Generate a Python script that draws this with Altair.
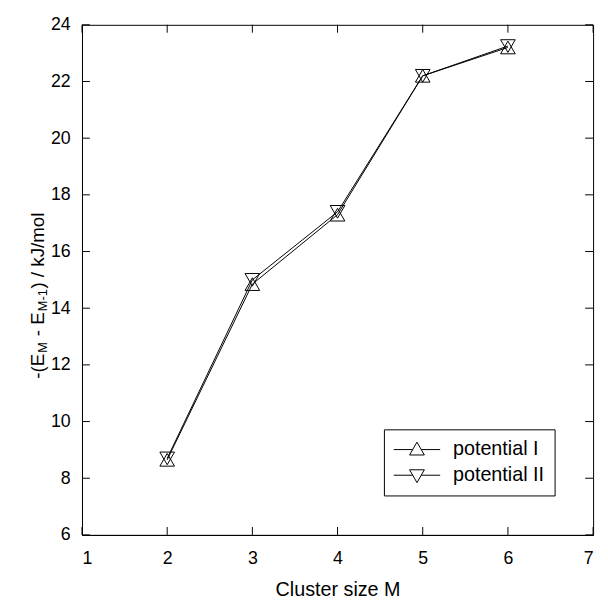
import altair as alt
import pandas as pd

# ---- data ----
cluster_size = [2, 3, 4, 5, 6]
potential_I = [8.65, 14.85, 17.3, 22.2, 23.2]
potential_II = [8.7, 15.0, 17.4, 22.2, 23.25]
series_names = ["potential I", "potential II"]
x_ticks = [1, 2, 3, 4, 5, 6, 7]
y_ticks = [6, 8, 10, 12, 14, 16, 18, 20, 22, 24]

W, H = 518, 517
FONT = "Liberation Sans"
FS = 18

df = pd.DataFrame({
    "M": cluster_size + cluster_size,
    "E": potential_I + potential_II,
    "series": [series_names[0]] * len(cluster_size) + [series_names[1]] * len(cluster_size),
})
xt_df = pd.DataFrame({"v": x_ticks})
yt_df = pd.DataFrame({"v": y_ticks})

xs = alt.Scale(domain=[1, 7], nice=False, zero=False)
ys = alt.Scale(domain=[6, 24], nice=False, zero=False)
XT = "Cluster size M"

lines = alt.Chart(df).mark_line(color="black", strokeWidth=1).encode(
    x=alt.X("M:Q", scale=xs, title=XT,
            axis=alt.Axis(values=x_ticks, ticks=False, labelPadding=15, grid=False,
                          titlePadding=12, titleFontSize=20, format="d")),
    y=alt.Y("E:Q", scale=ys, title=None,
            axis=alt.Axis(values=y_ticks, ticks=False, labelPadding=12, grid=False, format="d")),
    detail="series:N",
)

points = alt.Chart(df).mark_point(filled=False, color="black", size=220, strokeWidth=1, opacity=1).encode(
    x=alt.X("M:Q", scale=xs, title=XT),
    y=alt.Y("E:Q", scale=ys, title=None),
    shape=alt.Shape("series:N",
                    scale=alt.Scale(domain=series_names, range=["triangle-up", "triangle-down"]),
                    legend=None),
)

PATH_UP = "M-2.35,0L-0.43,0M0.43,0L2.35,0M0,-0.75L0.75,0.55L-0.75,0.55Z"
PATH_DOWN = "M-2.35,0L-0.43,0M0.43,0L2.35,0M0,0.75L0.75,-0.55L-0.75,-0.55Z"

legend_layer = alt.Chart(df).transform_filter("datum.M < 0").mark_point(
    filled=False, color="black", strokeWidth=1, opacity=1, size=400
).encode(
    x=alt.X("M:Q", scale=xs, title=XT),
    y=alt.Y("E:Q", scale=ys, title=None),
    shape=alt.Shape("series:N",
                    scale=alt.Scale(domain=series_names, range=[PATH_UP, PATH_DOWN]),
                    legend=alt.Legend(title=None, orient="none", legendX=306, legendY=410,
                                      strokeColor="black", fillColor="white", padding=10,
                                      labelFont=FONT, labelFontSize=20, labelColor="black",
                                      symbolSize=400, symbolStrokeWidth=1,
                                      symbolStrokeColor="black",
                                      symbolOpacity=1, symbolOffset=13, labelOffset=26,
                                      rowPadding=5)),
)

# inward ticks on all four sides, positioned by the scales
yl = alt.Chart(yt_df).mark_rule(color="black", strokeWidth=1).encode(
    y=alt.Y("v:Q", scale=ys, title=None), x=alt.value(0), x2=alt.value(8))
yr = alt.Chart(yt_df).mark_rule(color="black", strokeWidth=1).encode(
    y=alt.Y("v:Q", scale=ys, title=None), x=alt.value(W - 8), x2=alt.value(W))
xb = alt.Chart(xt_df).mark_rule(color="black", strokeWidth=1).encode(
    x=alt.X("v:Q", scale=xs, title=XT), y=alt.value(H - 8), y2=alt.value(H))
xtp = alt.Chart(xt_df).mark_rule(color="black", strokeWidth=1).encode(
    x=alt.X("v:Q", scale=xs, title=XT), y=alt.value(0), y2=alt.value(8))

# y-axis title with subscripts, built from pieces (text, is_subscript, gap before in em)
CW = {'-': 0.333, '(': 0.333, ')': 0.333, 'E': 0.667, 'M': 0.833, ' ': 0.278,
      '1': 0.556, '/': 0.278, 'k': 0.5, 'J': 0.5, 'm': 0.833, 'o': 0.556, 'l': 0.222}
TF = 19
SUB = 13
pieces = [("-(E", False, 0.0), ("M", True, 0.05), ("- E", False, 0.32),
          ("M-1", True, 0.05), (") / kJ/mol", False, 0.03)]
placed = []
pos = 0.0
for t, s, gap in pieces:
    pos += gap * TF
    placed.append((t, s, pos))
    pos += sum(CW[c] for c in t) * (SUB if s else TF)
total = pos
y0 = H / 2 + 16 + total / 2
title_layers = []
for t, s, p in placed:
    title_layers.append(
        alt.Chart(yt_df).mark_text(angle=270, align="left", baseline="alphabetic",
                                   font=FONT, fontSize=SUB if s else TF, color="black").encode(
            text=alt.value(t), x=alt.value(-39 + (4 if s else 0)), y=alt.value(y0 - p)
        ).transform_filter("datum.v == 6")
    )

chart = alt.layer(lines, points, legend_layer, yl, yr, xb, xtp, *title_layers).resolve_scale(
    shape="independent"
).properties(
    width=W, height=H,
    autosize=alt.AutoSizeParams(type="none"),
    padding={"left": 75, "top": 13, "right": 7, "bottom": 67},
).configure_view(
    stroke="black", strokeWidth=1
).configure_axis(
    labelFont=FONT, labelFontSize=FS, labelColor="black",
    titleFont=FONT, titleFontSize=FS, titleColor="black", titleFontWeight="normal",
    domainColor="black", domainWidth=1,
)

chart.save("out.html", embed_options={"renderer": "svg", "actions": False})
